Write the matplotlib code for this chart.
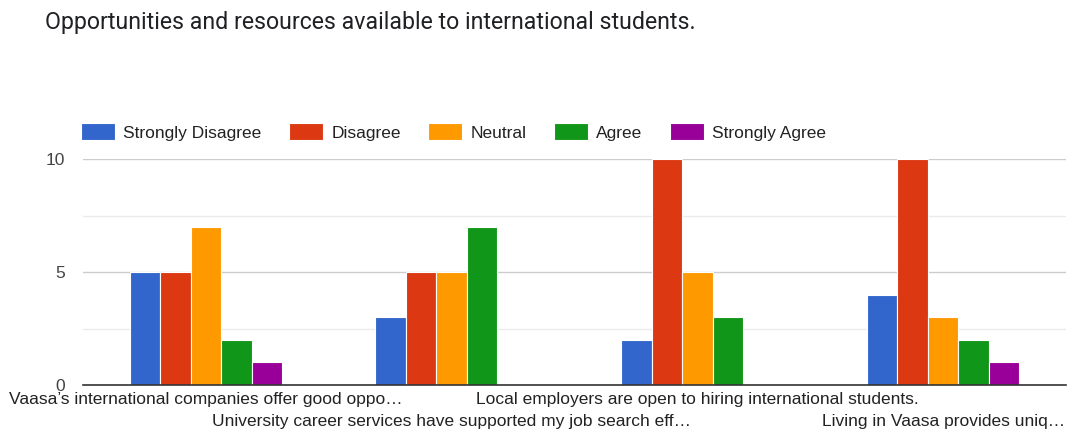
import matplotlib
matplotlib.use("Agg")
import matplotlib.pyplot as plt
import numpy as np

plt.rcParams["font.family"] = ["Liberation Sans", "DejaVu Sans"]

statements = [
    "Vaasa\u2019s international companies offer good oppo\u2026",
    "University career services have supported my job search eff\u2026",
    "Local employers are open to hiring international students.",
    "Living in Vaasa provides uniq\u2026",
]
responses = ["Strongly Disagree", "Disagree", "Neutral", "Agree", "Strongly Agree"]
strongly_disagree = [5, 3, 2, 4]
disagree = [5, 5, 10, 10]
neutral = [7, 5, 5, 3]
agree = [2, 7, 3, 2]
strongly_agree = [1, 0, 0, 1]
colors = ["#3366cc", "#dc3912", "#ff9900", "#109618", "#990099"]

series = [strongly_disagree, disagree, neutral, agree, strongly_agree]

fig = plt.figure(figsize=(10.68, 4.30), dpi=100)
ax = fig.add_axes([83 / 1068, (430 - 385) / 430, (1066 - 83) / 1068, (385 - 159) / 430])

x = np.arange(len(statements))
bw = 0.124
for i, (name, vals, col) in enumerate(zip(responses, series, colors)):
    ax.bar(x + (i - 2) * bw, vals, width=bw, color=col, edgecolor="white",
           linewidth=0.8, label=name, zorder=3)

ax.set_xlim(-0.5, len(statements) - 0.5)
ax.set_ylim(0, 10)
ax.set_yticks([0, 5, 10])
ax.set_yticks([2.5, 7.5], minor=True)
ax.grid(axis="y", which="major", color="#cccccc", lw=1, zorder=0)
ax.grid(axis="y", which="minor", color="#ebebeb", lw=1, zorder=0)
ax.tick_params(axis="y", which="both", length=0, labelsize=12.5, labelcolor="#444444", pad=13)
ax.tick_params(axis="x", length=0)
ax.set_xticks([])
for s in ["top", "right", "left"]:
    ax.spines[s].set_visible(False)
ax.spines["bottom"].set_color("#333333")
ax.spines["bottom"].set_linewidth(1.2)
ax.spines["bottom"].set_zorder(4)

for i, s in enumerate(statements):
    yoff = -0.065 if i % 2 == 0 else -0.16
    ax.text(i, yoff, s, transform=ax.get_xaxis_transform(), ha="center", va="center",
            fontsize=12.5, color="#222222", clip_on=False)

fig.text(45 / 1068, 1 - 22 / 430, "Opportunities and resources available to international students.",
         fontsize=16.7, color="#202124", va="center", ha="left", family="Roboto")

handles, labels = ax.get_legend_handles_labels()
fig.legend(handles, labels, loc="center left", bbox_to_anchor=(78 / 1068, 1 - 132 / 430),
           ncol=5, frameon=False, fontsize=12.5, handlelength=1.95, handleheight=1.15,
           columnspacing=1.6, handletextpad=0.46, labelcolor="#222222", borderaxespad=0,
           borderpad=0.2)

fig.savefig("out.png", dpi=100)
